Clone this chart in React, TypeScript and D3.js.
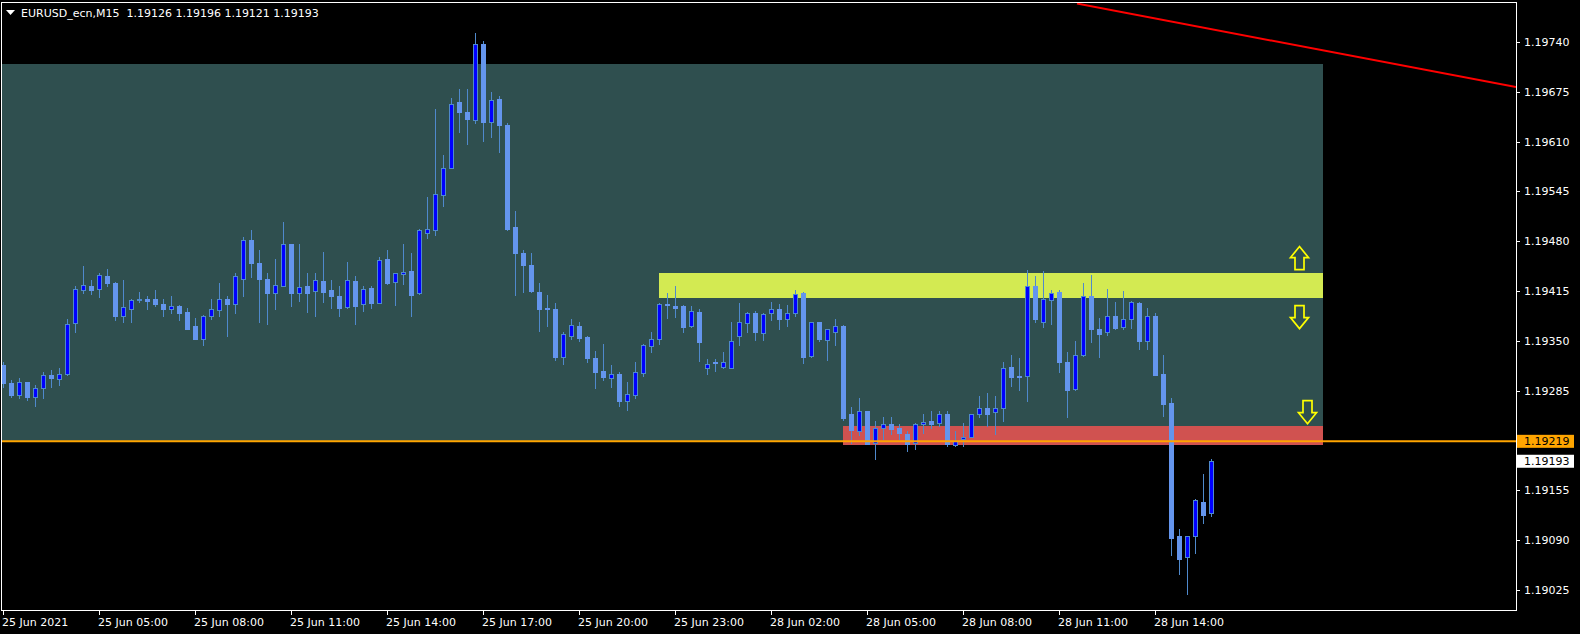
import React from 'react';
import * as d3 from 'd3';

const W = 1580;
const H = 634;
const symbolTitle = 'EURUSD_ecn,M15';

// OHLC, 15-minute bars from 25 Jun 2021 02:00
const opens = [
  1.19318, 1.19295, 1.19280, 1.19297, 1.19277, 1.19288, 1.19305, 1.19300, 1.19307, 1.19373,
  1.19416, 1.19422, 1.19418, 1.19435, 1.19426, 1.19383, 1.19392, 1.19403, 1.19405, 1.19404,
  1.19398, 1.19392, 1.19396, 1.19388, 1.19369, 1.19352, 1.19382, 1.19390, 1.19404, 1.19398,
  1.19431, 1.19481, 1.19452, 1.19431, 1.19413, 1.19422, 1.19477, 1.19413, 1.19422, 1.19415,
  1.19428, 1.19417, 1.19409, 1.19394, 1.19428, 1.19398, 1.19419, 1.19400, 1.19457, 1.19427,
  1.19437, 1.19441, 1.19412, 1.19491, 1.19495, 1.19540, 1.19576, 1.19662, 1.19649, 1.19638,
  1.19737, 1.19635, 1.19666, 1.19632, 1.19498, 1.19465, 1.19449, 1.19414, 1.19393, 1.19392,
  1.19329, 1.19357, 1.19370, 1.19355, 1.19328, 1.19311, 1.19302, 1.19307, 1.19272, 1.19279,
  1.19308, 1.19343, 1.19352, 1.19398, 1.19396, 1.19395, 1.19369, 1.19388, 1.19314, 1.19322,
  1.19316, 1.19315, 1.19356, 1.19373, 1.19387, 1.19360, 1.19386, 1.19391, 1.19379, 1.19386,
  1.19413, 1.19330, 1.19374, 1.19351, 1.19362, 1.19370, 1.19254, 1.19233, 1.19258, 1.19217,
  1.19236, 1.19241, 1.19237, 1.19229, 1.19217, 1.19241, 1.19245, 1.19243, 1.19254, 1.19214,
  1.19222, 1.19225, 1.19254, 1.19262, 1.19257, 1.19262, 1.19316, 1.19304, 1.19304, 1.19422,
  1.19375, 1.19403, 1.19414, 1.19323, 1.19287, 1.19331, 1.19409, 1.19366, 1.19362, 1.19383,
  1.19368, 1.19379, 1.19400, 1.19350, 1.19383, 1.19307, 1.19269, 1.19095, 1.19068, 1.19095,
  1.19140, 1.19126,
];
const highs = [
  1.19323, 1.19299, 1.19301, 1.19297, 1.19293, 1.19310, 1.19312, 1.19315, 1.19379, 1.19421,
  1.19448, 1.19430, 1.19439, 1.19444, 1.19427, 1.19430, 1.19404, 1.19414, 1.19409, 1.19417,
  1.19404, 1.19408, 1.19397, 1.19393, 1.19380, 1.19384, 1.19404, 1.19426, 1.19409, 1.19439,
  1.19486, 1.19494, 1.19469, 1.19438, 1.19457, 1.19505, 1.19477, 1.19477, 1.19439, 1.19439,
  1.19466, 1.19430, 1.19422, 1.19453, 1.19434, 1.19421, 1.19421, 1.19460, 1.19469, 1.19438,
  1.19477, 1.19465, 1.19496, 1.19538, 1.19653, 1.19593, 1.19667, 1.19679, 1.19679, 1.19752,
  1.19741, 1.19675, 1.19670, 1.19634, 1.19520, 1.19468, 1.19465, 1.19425, 1.19410, 1.19400,
  1.19361, 1.19379, 1.19374, 1.19357, 1.19337, 1.19346, 1.19319, 1.19309, 1.19297, 1.19323,
  1.19346, 1.19362, 1.19400, 1.19413, 1.19422, 1.19397, 1.19395, 1.19391, 1.19327, 1.19327,
  1.19335, 1.19374, 1.19400, 1.19388, 1.19389, 1.19387, 1.19401, 1.19398, 1.19397, 1.19417,
  1.19414, 1.19375, 1.19375, 1.19366, 1.19378, 1.19371, 1.19264, 1.19275, 1.19259, 1.19246,
  1.19251, 1.19251, 1.19242, 1.19233, 1.19243, 1.19254, 1.19259, 1.19259, 1.19258, 1.19233,
  1.19243, 1.19255, 1.19278, 1.19282, 1.19278, 1.19323, 1.19331, 1.19328, 1.19443, 1.19435,
  1.19441, 1.19417, 1.19417, 1.19335, 1.19350, 1.19426, 1.19436, 1.19380, 1.19418, 1.19401,
  1.19415, 1.19402, 1.19401, 1.19393, 1.19387, 1.19331, 1.19275, 1.19104, 1.19096, 1.19144,
  1.19177, 1.19196,
];
const lows = [
  1.19290, 1.19277, 1.19276, 1.19273, 1.19265, 1.19275, 1.19290, 1.19292, 1.19306, 1.19361,
  1.19412, 1.19411, 1.19407, 1.19421, 1.19377, 1.19375, 1.19375, 1.19401, 1.19392, 1.19396,
  1.19382, 1.19386, 1.19377, 1.19365, 1.19352, 1.19345, 1.19378, 1.19382, 1.19356, 1.19386,
  1.19408, 1.19433, 1.19375, 1.19372, 1.19392, 1.19421, 1.19396, 1.19402, 1.19388, 1.19382,
  1.19401, 1.19393, 1.19383, 1.19393, 1.19372, 1.19389, 1.19393, 1.19399, 1.19424, 1.19397,
  1.19424, 1.19382, 1.19411, 1.19484, 1.19488, 1.19526, 1.19575, 1.19623, 1.19607, 1.19634,
  1.19611, 1.19616, 1.19597, 1.19494, 1.19410, 1.19414, 1.19414, 1.19363, 1.19370, 1.19325,
  1.19320, 1.19352, 1.19350, 1.19322, 1.19288, 1.19299, 1.19290, 1.19265, 1.19260, 1.19275,
  1.19304, 1.19335, 1.19346, 1.19380, 1.19381, 1.19362, 1.19368, 1.19324, 1.19307, 1.19311,
  1.19314, 1.19314, 1.19344, 1.19362, 1.19351, 1.19351, 1.19377, 1.19366, 1.19370, 1.19383,
  1.19321, 1.19329, 1.19350, 1.19325, 1.19345, 1.19247, 1.19217, 1.19227, 1.19215, 1.19196,
  1.19222, 1.19228, 1.19222, 1.19206, 1.19209, 1.19230, 1.19236, 1.19239, 1.19213, 1.19213,
  1.19213, 1.19224, 1.19251, 1.19239, 1.19228, 1.19245, 1.19291, 1.19286, 1.19271, 1.19375,
  1.19368, 1.19372, 1.19310, 1.19251, 1.19286, 1.19330, 1.19348, 1.19329, 1.19358, 1.19365,
  1.19366, 1.19367, 1.19339, 1.19339, 1.19305, 1.19252, 1.19071, 1.19046, 1.19020, 1.19073,
  1.19113, 1.19121,
];
const closes = [
  1.19295, 1.19280, 1.19296, 1.19277, 1.19288, 1.19306, 1.19301, 1.19307, 1.19372, 1.19418,
  1.19423, 1.19417, 1.19436, 1.19425, 1.19383, 1.19394, 1.19403, 1.19404, 1.19402, 1.19398,
  1.19391, 1.19396, 1.19386, 1.19366, 1.19352, 1.19382, 1.19391, 1.19404, 1.19398, 1.19434,
  1.19481, 1.19451, 1.19431, 1.19413, 1.19423, 1.19477, 1.19412, 1.19420, 1.19413, 1.19429,
  1.19414, 1.19408, 1.19393, 1.19430, 1.19396, 1.19418, 1.19400, 1.19456, 1.19425, 1.19438,
  1.19440, 1.19410, 1.19494, 1.19496, 1.19541, 1.19576, 1.19659, 1.19648, 1.19640, 1.19737,
  1.19636, 1.19664, 1.19631, 1.19496, 1.19465, 1.19449, 1.19415, 1.19392, 1.19392, 1.19329,
  1.19359, 1.19371, 1.19354, 1.19328, 1.19310, 1.19303, 1.19307, 1.19272, 1.19281, 1.19309,
  1.19344, 1.19353, 1.19398, 1.19397, 1.19393, 1.19368, 1.19389, 1.19349, 1.19320, 1.19321,
  1.19323, 1.19350, 1.19374, 1.19387, 1.19361, 1.19385, 1.19391, 1.19379, 1.19387, 1.19411,
  1.19329, 1.19374, 1.19352, 1.19365, 1.19370, 1.19249, 1.19234, 1.19258, 1.19216, 1.19237,
  1.19241, 1.19235, 1.19230, 1.19215, 1.19242, 1.19244, 1.19242, 1.19254, 1.19215, 1.19220,
  1.19225, 1.19254, 1.19262, 1.19254, 1.19263, 1.19315, 1.19303, 1.19303, 1.19421, 1.19378,
  1.19404, 1.19413, 1.19322, 1.19286, 1.19332, 1.19409, 1.19365, 1.19359, 1.19382, 1.19367,
  1.19378, 1.19401, 1.19350, 1.19383, 1.19306, 1.19268, 1.19093, 1.19066, 1.19095, 1.19142,
  1.19123, 1.19193,
];

// time axis ticks (bar index -> label)
const timeTickIndex = [0, 12, 24, 36, 48, 60, 72, 84, 96, 108, 120, 132, 144];
const timeTickLabels = [
  '25 Jun 2021', '25 Jun 05:00', '25 Jun 08:00', '25 Jun 11:00', '25 Jun 14:00',
  '25 Jun 17:00', '25 Jun 20:00', '25 Jun 23:00', '28 Jun 02:00', '28 Jun 05:00',
  '28 Jun 08:00', '28 Jun 11:00', '28 Jun 14:00',
];

// price axis ticks
const priceTicks = [
  1.1974, 1.19675, 1.1961, 1.19545, 1.1948, 1.19415, 1.1935, 1.19285,
  1.19155, 1.1909, 1.19025,
];

const orangeLevel = 1.19219;
const bidPrice = 1.19193;

// rectangle zones
const zoneStartIdx = [-5, 82, 105];
const zoneEndIdx = [165, 165, 165];
const zoneTop = [1.19711, 1.19438, 1.19239];
const zoneBottom = [1.19219, 1.19406, 1.19214];
const zoneColors = ['#2F4F4F', '#D3EA52', '#D05250'];

// trend line
const trendIdx = [134.25, 189.125];
const trendPrice = [1.1979, 1.19681];

// arrows
const arrowIdx = [162, 162, 163];
const arrowPrice = [1.19458, 1.19381, 1.19257];
const arrowDir = ['up', 'down', 'down'];

const FONT = '"DejaVu Sans", Verdana, sans-serif';
const BULL_FILL = '#0000FF';
const BAR_COLOR = '#4F89CC';
const BEAR_FILL = '#6495ED';

const PL = 1, PR = 1516, PT = 2, PB = 610;

export default function App() {
  const x = d3.scaleLinear().domain([0, 151]).range([3, 3 + 8 * 151]);
  const y = d3.scaleLinear().domain([1.18999, 1.19792]).range([PB, PT]);

  const candles = opens.map((o, i) => {
    const c = closes[i];
    const hi = highs[i];
    const lo = lows[i];
    const cx = Math.round(x(i));
    const yH = Math.round(y(hi));
    const yL = Math.round(y(lo));
    const top = Math.round(y(Math.max(o, c)));
    const bot = Math.round(y(Math.min(o, c)));
    const bh = Math.max(1, bot - top + 1);
    const bull = c > o;
    return (
      <g key={i}>
        <rect x={cx} y={yH} width={1} height={yL - yH + 1} fill={BAR_COLOR} />
        {bull ? (
          bh >= 3 ? (
            <rect x={cx - 1.5} y={top + 0.5} width={4} height={bh - 1} fill={BULL_FILL} stroke={BAR_COLOR} strokeWidth={1} />
          ) : (
            <rect x={cx - 2} y={top} width={5} height={bh} fill={BAR_COLOR} />
          )
        ) : (
          <rect x={cx - 2} y={top} width={5} height={bh} fill={BEAR_FILL} />
        )}
      </g>
    );
  });

  const arrowPath = (dir: string) => {
    const s = dir === 'up' ? 1 : -1;
    const p = [
      [0, -11.5], [9, -0.5], [4.5, -0.5], [4.5, 11.5], [-4.5, 11.5], [-4.5, -0.5], [-9, -0.5],
    ].map(([a, b]) => [a, b * s]);
    return 'M' + p.map((q) => q.join(',')).join('L') + 'Z';
  };

  const trendLine = d3.line<number>()
    .x((d, i) => x(trendIdx[i]))
    .y((d) => y(d));

  const title = `${symbolTitle}  ${opens[151].toFixed(5)} ${highs[151].toFixed(5)} ${lows[151].toFixed(5)} ${closes[151].toFixed(5)}`;

  return (
    <svg width={W} height={H} style={{ position: 'absolute', left: 0, top: 0, background: '#000', display: 'block' }}
      fontFamily={FONT} fontSize={11}>
      <rect x={0} y={0} width={W} height={H} fill="#000" />
      <defs>
        <clipPath id="plot">
          <rect x={PL + 1} y={PT + 1} width={PR - PL - 1} height={PB - PT - 1} />
        </clipPath>
      </defs>
      <g clipPath="url(#plot)">
        {zoneColors.map((col, k) => {
          const x0 = Math.round(x(zoneStartIdx[k]));
          const x1 = Math.round(x(zoneEndIdx[k]));
          const y0 = Math.round(y(zoneTop[k]));
          const y1 = Math.round(y(zoneBottom[k]));
          return <rect key={k} x={x0} y={y0} width={x1 - x0} height={y1 - y0} fill={col} />;
        })}
        {candles}
        <line x1={PL} x2={PR} y1={y(orangeLevel)} y2={y(orangeLevel)} stroke="#FFA500" strokeWidth={2} />
        <path d={trendLine(trendPrice) || ''} stroke="#FF0000" strokeWidth={2} fill="none" />
        {arrowIdx.map((ai, k) => (
          <path key={k} d={arrowPath(arrowDir[k])}
            transform={`translate(${x(ai) + 0.5},${y(arrowPrice[k])})`}
            fill="none" stroke="#FFFF00" strokeWidth={1.7} strokeLinejoin="miter" />
        ))}
      </g>
      {/* frame */}
      <rect x={PL + 0.5} y={PT + 0.5} width={PR - PL} height={PB - PT} fill="none" stroke="#FFFFFF" strokeWidth={1} />
      {/* title */}
      <path d="M6,10 L15,10 L10.5,15 Z" fill="#FFFFFF" />
      <text x={21} y={17} fill="#FFFFFF" style={{ whiteSpace: 'pre' }} xmlSpace="preserve">{title}</text>
      {/* price axis */}
      {priceTicks.map((t) => (
        <g key={t}>
          <line x1={PR} x2={PR + 4} y1={Math.round(y(t)) + 0.5} y2={Math.round(y(t)) + 0.5} stroke="#FFFFFF" />
          <text x={PR + 8} y={y(t)} dy="0.36em" fill="#FFFFFF">{t.toFixed(5)}</text>
        </g>
      ))}
      <rect x={PR + 1} y={y(orangeLevel) - 6.5} width={57} height={13} fill="#FFA500" />
      <text x={PR + 8} y={y(orangeLevel)} dy="0.36em" fill="#000000">{orangeLevel.toFixed(5)}</text>
      <rect x={PR + 1} y={y(bidPrice) - 6.5} width={57} height={13} fill="#FFFFFF" />
      <text x={PR + 8} y={y(bidPrice)} dy="0.36em" fill="#000000">{bidPrice.toFixed(5)}</text>
      {/* time axis */}
      {timeTickIndex.map((ti, k) => (
        <g key={ti}>
          <line x1={x(ti) + 0.5} x2={x(ti) + 0.5} y1={PB} y2={PB + 5} stroke="#FFFFFF" />
          <text x={x(ti) - 1} y={626} fill="#FFFFFF">{timeTickLabels[k]}</text>
        </g>
      ))}
    </svg>
  );
}
